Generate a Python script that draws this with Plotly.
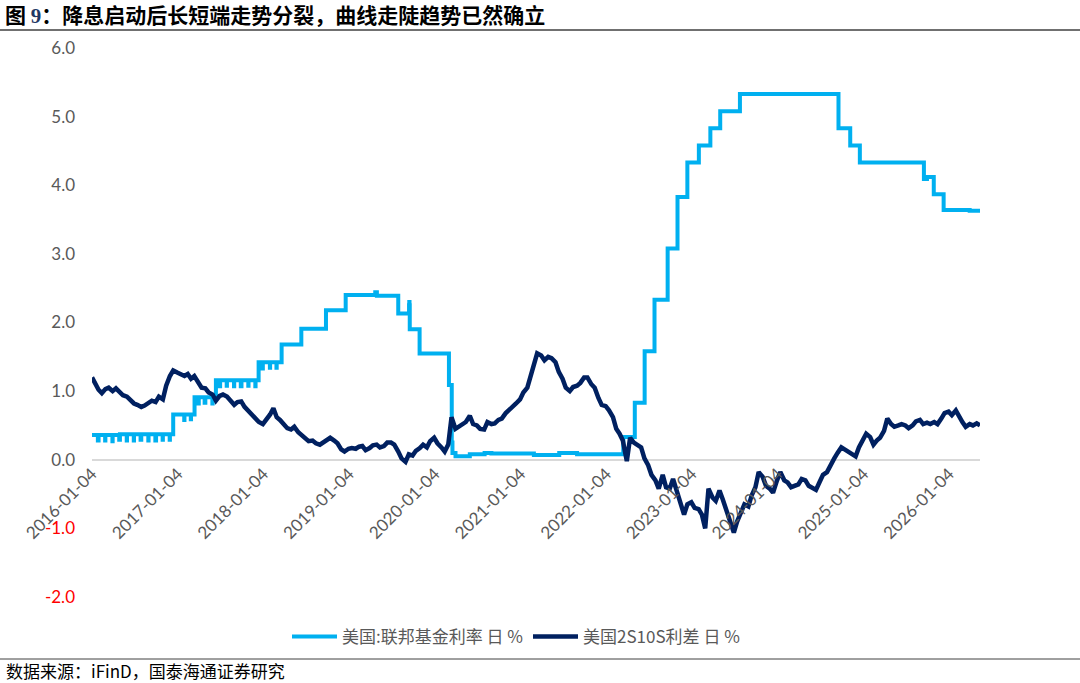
import bisect
import pandas as pd
import plotly.graph_objects as go

# ---------------- data ----------------
# Effective Fed Funds rate (%): level changes
ff_change_dates = [
    "2016-01-04", "2016-04-01", "2016-12-15", "2017-03-16", "2017-06-15", "2017-12-14",
    "2018-03-22", "2018-06-14", "2018-09-27", "2018-12-20", "2019-04-25", "2019-05-02",
    "2019-08-01", "2019-09-16", "2019-09-17", "2019-09-18", "2019-09-19", "2019-10-31",
    "2020-03-04", "2020-03-16", "2020-03-19", "2020-04-01", "2020-06-01", "2020-08-03",
    "2020-09-01", "2021-03-01", "2021-06-17", "2021-09-01", "2022-03-17", "2022-05-05",
    "2022-06-16", "2022-07-28", "2022-09-22", "2022-11-03", "2022-12-15", "2023-02-02",
    "2023-03-23", "2023-05-04", "2023-07-27", "2024-09-19", "2024-11-08", "2024-12-19",
    "2025-09-18", "2025-10-01", "2025-10-30", "2025-12-11", "2026-04-01", "2026-05-15",
]
ff_change_vals = [
    0.36, 0.37, 0.66, 0.91, 1.16, 1.42,
    1.68, 1.91, 2.18, 2.40, 2.44, 2.39,
    2.13, 2.25, 2.30, 2.25, 1.90, 1.55,
    1.09, 0.25, 0.10, 0.05, 0.08, 0.10,
    0.09, 0.07, 0.10, 0.08, 0.33, 0.83,
    1.58, 2.33, 3.08, 3.83, 4.33, 4.58,
    4.83, 5.08, 5.33, 4.83, 4.58, 4.33,
    4.09, 4.12, 3.87, 3.64, 3.63, 3.62,
]
# month-end dips of the effective rate
ff_dip_dates = [
    "2016-01-29", "2016-02-29", "2016-03-31", "2016-04-29", "2016-05-31", "2016-06-30",
    "2016-07-29", "2016-08-31", "2016-09-30", "2016-10-31", "2016-11-30",
    "2017-01-31", "2017-02-28", "2017-03-31", "2017-04-28", "2017-05-31", "2017-06-30",
    "2017-07-31", "2017-08-31", "2017-09-29", "2017-10-31", "2017-11-30", "2017-12-29",
    "2018-01-31", "2018-02-28",
]
ff_dip_vals = [
    0.28, 0.28, 0.27, 0.29, 0.28, 0.28,
    0.29, 0.28, 0.28, 0.29, 0.29,
    0.58, 0.59, 0.82, 0.83, 0.82, 1.07,
    1.08, 1.07, 1.07, 1.08, 1.07, 1.33,
    1.34, 1.34,
]

# US 2s10s spread (%), sampled on the 1st and 15th of each month
s2016 = [1.20, 1.12, 1.02, 0.97, 1.03, 1.05, 1.00, 1.04, 0.98, 0.94, 0.92, 0.87,
         0.82, 0.80, 0.77, 0.79, 0.82, 0.86, 0.84, 0.92, 0.88, 1.08, 1.22, 1.30]
s2017 = [1.27, 1.24, 1.22, 1.25, 1.18, 1.22, 1.12, 1.05, 1.04, 0.98, 0.95, 0.86,
         0.93, 0.95, 0.92, 0.86, 0.80, 0.84, 0.85, 0.77, 0.71, 0.66, 0.60, 0.55]
s2018 = [0.52, 0.58, 0.66, 0.75, 0.62, 0.58, 0.50, 0.46, 0.44, 0.48, 0.40, 0.36,
         0.30, 0.27, 0.28, 0.24, 0.22, 0.25, 0.30, 0.32, 0.28, 0.24, 0.15, 0.12]
s2019 = [0.16, 0.17, 0.16, 0.19, 0.20, 0.14, 0.17, 0.21, 0.22, 0.18, 0.20, 0.25,
         0.25, 0.22, 0.12, 0.02, -0.03, 0.08, 0.06, 0.13, 0.17, 0.22, 0.18, 0.27]
s2020 = [0.32, 0.24, 0.18, 0.12, 0.22, 0.62, 0.45, 0.48, 0.52, 0.55, 0.64, 0.52,
         0.50, 0.45, 0.44, 0.55, 0.52, 0.53, 0.58, 0.60, 0.68, 0.72, 0.78, 0.82]
s2021 = [0.88, 0.98, 1.05, 1.20, 1.38, 1.55, 1.52, 1.45, 1.50, 1.48, 1.42, 1.28,
         1.18, 1.05, 1.00, 1.06, 1.08, 1.12, 1.20, 1.20, 1.10, 1.05, 0.90, 0.80]
s2022 = [0.78, 0.72, 0.62, 0.45, 0.38, 0.28, -0.02, 0.32, 0.25, 0.22, 0.18, 0.02,
         -0.08, -0.22, -0.30, -0.42, -0.22, -0.40, -0.42, -0.28, -0.48, -0.65, -0.80, -0.65]
s2023 = [-0.62, -0.70, -0.72, -0.80, -1.00, -0.42, -0.55, -0.60, -0.45, -0.58, -0.75, -0.90,
         -1.06, -0.90, -0.75, -0.65, -0.68, -0.52, -0.40, -0.18, -0.25, -0.38, -0.42, -0.48]
s2024 = [-0.30, -0.18, -0.30, -0.33, -0.40, -0.38, -0.36, -0.28, -0.30, -0.38, -0.42, -0.44,
         -0.32, -0.22, -0.18, -0.08, 0.02, 0.10, 0.18, 0.15, 0.12, 0.08, 0.05, 0.18]
s2025 = [0.30, 0.38, 0.33, 0.22, 0.28, 0.32, 0.42, 0.60, 0.52, 0.48, 0.50, 0.52,
         0.50, 0.46, 0.50, 0.56, 0.58, 0.52, 0.54, 0.52, 0.55, 0.52, 0.60, 0.68]
s2026 = [0.70, 0.65, 0.72, 0.62, 0.55, 0.48, 0.52, 0.50, 0.53, 0.50]

tick_labels = ["2016-01-04", "2017-01-04", "2018-01-04", "2019-01-04", "2020-01-04",
               "2021-01-04", "2022-01-04", "2023-01-04", "2024-01-04", "2025-01-04",
               "2026-01-04"]
y_ticks = [-2, -1, 0, 1, 2, 3, 4, 5, 6]

name_ff = "美国:联邦基金利率 日 %"
name_sp = "美国2S10S利差 日 %"

# ---------------- build series ----------------
chg = pd.to_datetime(ff_change_dates)
pts = list(zip(chg, ff_change_vals))
for d, v in zip(pd.to_datetime(ff_dip_dates), ff_dip_vals):
    i = bisect.bisect_right(list(chg), d) - 1
    pts.append((d, v))
    pts.append((d + pd.offsets.BDay(1), ff_change_vals[i]))
pts.sort(key=lambda p: p[0])
ff_x = [p[0] for p in pts]
ff_y = [p[1] for p in pts]

sp_vals = s2016 + s2017 + s2018 + s2019 + s2020 + s2021 + s2022 + s2023 + s2024 + s2025 + s2026
sp_dates = []
for yr in range(2016, 2027):
    for mo in range(1, 13):
        for dd in (1, 15):
            sp_dates.append(pd.Timestamp(yr, mo, dd))
sp_dates = sp_dates[:len(sp_vals)]
sp_dates[0] = pd.Timestamp("2016-01-04")

# ---------------- figure ----------------
fig = go.Figure()
fig.add_trace(go.Scatter(x=ff_x, y=ff_y, mode="lines", name=name_ff,
                         line=dict(color="#00B0F0", width=4, shape="hv")))
fig.add_trace(go.Scatter(x=sp_dates, y=sp_vals, mode="lines", name=name_sp,
                         line=dict(color="#002060", width=4.5)))

ytext = []
for t in y_ticks:
    s = f"{t:.1f}"
    if t < 0:
        s = f"<span style='color:#FF0000'>{s}</span>"
    ytext.append(s)

W, H = 1080, 683
L, R, T, B = 92, 100, 48, 86
pw, ph = W - L - R, H - T - B

def px_x(x):
    return (x - L) / pw

def px_y(y):
    return (H - B - y) / ph

tickfont = dict(family="Lato, 'Noto Sans CJK SC', sans-serif", size=17, color="#595959")

fig.update_layout(
    width=W, height=H,
    margin=dict(l=L, r=R, t=T, b=B),
    paper_bgcolor="white", plot_bgcolor="white",
    showlegend=True,
    legend=dict(orientation="h", x=px_x(516), xanchor="center", y=px_y(637), yanchor="middle",
                font=dict(family="'Noto Sans CJK SC', Lato, sans-serif", size=17, color="#595959"),
                itemwidth=45, bgcolor="rgba(0,0,0,0)"),
    xaxis=dict(type="date", range=["2016-01-04", "2026-05-15"],
               anchor="free", position=0.25,
               tickvals=pd.to_datetime(tick_labels), ticktext=tick_labels,
               tickangle=-45, tickfont=tickfont, showgrid=False, showline=False,
               zeroline=False, ticks=""),
    yaxis=dict(range=[-2, 6], tickvals=y_ticks, ticktext=ytext, tickfont=tickfont,
               showgrid=False, zeroline=True, zerolinecolor="#D9D9D9", zerolinewidth=1.5,
               showline=False, ticks="", ticklabelstandoff=16),
    title=dict(text="图 <span style='font-family:Liberation Serif;color:#1F3864'>9</span>：降息启动后长短端走势分裂，曲线走陡趋势已然确立",
               x=5 / W, xanchor="left", xref="container",
               y=1 - 16 / H, yanchor="middle", yref="container",
               font=dict(family="'Noto Sans CJK SC', sans-serif", size=21, color="#000000", weight="bold")),
    shapes=[
        dict(type="line", xref="paper", yref="paper", x0=px_x(0), x1=px_x(W),
             y0=px_y(30), y1=px_y(30), line=dict(color="#404040", width=1.5)),
        dict(type="line", xref="paper", yref="paper", x0=px_x(0), x1=px_x(W),
             y0=px_y(659), y1=px_y(659), line=dict(color="#404040", width=1)),
    ],
    annotations=[
        dict(text="数据来源：iFinD，国泰海通证券研究", xref="paper", yref="paper",
             x=px_x(4), y=px_y(670), xanchor="left", yanchor="middle", showarrow=False,
             font=dict(family="'Noto Sans CJK SC', sans-serif", size=17, color="#000000")),
    ],
)

fig.write_html("out.html")
